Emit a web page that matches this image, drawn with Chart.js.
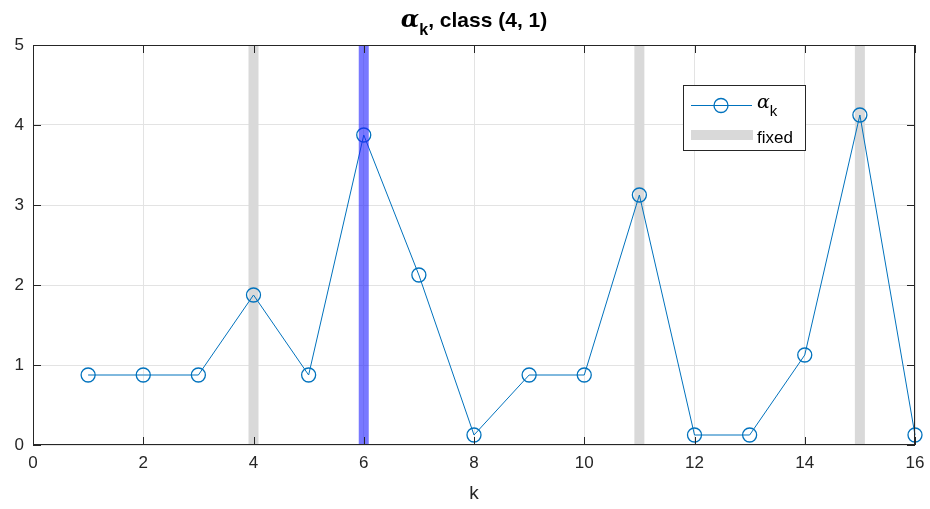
<!DOCTYPE html>
<html>
<head>
<meta charset="utf-8">
<script src="https://cdn.jsdelivr.net/npm/chart.js@4/dist/chart.umd.min.js"></script>
<style>
  html, body { margin: 0; padding: 0; background: #fff; }
  #wrap { width: 930px; height: 509px; }
</style>
</head>
<body>
<div id="wrap"><canvas id="alphaChart" width="930" height="509"></canvas></div>
<script>
// data
const kValues = [1, 2, 3, 4, 5, 6, 7, 8, 9, 10, 11, 12, 13, 14, 15, 16];
const alphaValues = [0.875, 0.875, 0.875, 1.875, 0.875, 3.875, 2.125, 0.125, 0.875, 0.875, 3.125, 0.125, 0.125, 1.125, 4.125, 0.125];
const fixedK = [4, 11, 15];
const currentK = [6];
const xTicks = [0, 2, 4, 6, 8, 10, 12, 14, 16];
const yTicks = [0, 1, 2, 3, 4, 5];

const LINE_BLUE = '#0072BD';
const AXIS_COL = '#262626';
const FONT = 'Arial, "Liberation Sans", sans-serif';

function vbar(k, color, order) {
    return {
        data: [{ x: k, y: 0 }, { x: k, y: 5 }],
        borderColor: color,
        borderWidth: 10,
        borderCapStyle: 'butt',
        pointRadius: 0,
        order: order
    };
}

const datasets = [];
fixedK.forEach(k => datasets.push(vbar(k, '#d9d9d9', 3)));
datasets.push({
    data: kValues.map((k, i) => ({ x: k, y: alphaValues[i] })),
    borderColor: LINE_BLUE,
    borderWidth: 1,
    pointStyle: 'circle',
    pointRadius: 7,
    pointBorderWidth: 1.3,
    pointBorderColor: LINE_BLUE,
    pointBackgroundColor: 'rgba(0,0,0,0)',
    clip: false,
    order: 2
});
currentK.forEach(k => datasets.push(vbar(k, 'rgba(30,30,255,0.6)', 1)));

// box, inward ticks, title, legend
const decor = {
    id: 'decor',
    afterDraw(chart) {
        const c = chart.ctx;
        const a = chart.chartArea;
        const xs = chart.scales.x, ys = chart.scales.y;
        c.save();
        c.strokeStyle = AXIS_COL;
        c.lineWidth = 1;
        c.strokeRect(a.left + 0.5, a.top + 0.5, a.right - a.left - 1, a.bottom - a.top - 1);
        c.beginPath();
        xTicks.forEach(t => {
            const px = Math.round(xs.getPixelForValue(t)) + 0.5;
            c.moveTo(px, a.bottom); c.lineTo(px, a.bottom - 8);
            c.moveTo(px, a.top); c.lineTo(px, a.top + 8);
        });
        yTicks.forEach(t => {
            const py = Math.round(ys.getPixelForValue(t)) + 0.5;
            c.moveTo(a.left, py); c.lineTo(a.left + 8, py);
            c.moveTo(a.right, py); c.lineTo(a.right - 8, py);
        });
        c.stroke();

        // title
        c.fillStyle = '#000';
        const cx = (a.left + a.right) / 2;
        c.textBaseline = 'alphabetic';
        c.font = 'italic bold 24px "DejaVu Serif", serif';
        const aW = c.measureText('\u03b1').width;
        c.font = 'bold 16px ' + FONT;
        const kW = c.measureText('k').width;
        c.font = 'bold 21px ' + FONT;
        const rest = ', class (4, 1)';
        const rW = c.measureText(rest).width;
        let x0 = cx - (aW + kW + rW) / 2;
        c.textAlign = 'left';
        c.font = 'italic bold 24px "DejaVu Serif", serif';
        c.fillText('\u03b1', x0, 27);
        c.font = 'bold 16px ' + FONT;
        c.fillText('k', x0 + aW, 35);
        c.font = 'bold 21px ' + FONT;
        c.fillText(rest, x0 + aW + kW, 27);

        // legend
        const lx = 683, ly = 85, lw = 122, lh = 65;
        c.fillStyle = '#fff';
        c.fillRect(lx, ly, lw, lh);
        c.strokeStyle = AXIS_COL;
        c.lineWidth = 1;
        c.strokeRect(lx + 0.5, ly + 0.5, lw, lh);
        c.strokeStyle = LINE_BLUE;
        c.beginPath();
        c.moveTo(691, 105.5); c.lineTo(752, 105.5);
        c.stroke();
        c.lineWidth = 1.3;
        c.beginPath();
        c.arc(721, 105.5, 7, 0, Math.PI * 2);
        c.stroke();
        c.fillStyle = '#d9d9d9';
        c.fillRect(691, 130, 62, 10);
        c.fillStyle = '#000';
        c.font = 'italic 19px "DejaVu Serif", serif';
        c.fillText('\u03b1', 757, 108);
        const aw2 = c.measureText('\u03b1').width;
        c.font = '15px ' + FONT;
        c.fillText('k', 757 + aw2, 116);
        c.font = '17px ' + FONT;
        c.fillText('fixed', 757, 143);
        c.restore();
    }
};

const config = {
    type: 'line',
    data: { datasets: datasets },
    options: {
        responsive: false,
        animation: false,
        layout: { padding: { top: 45, right: 15, left: 0, bottom: 0 } },
        plugins: { legend: { display: false }, tooltip: { enabled: false }, title: { display: false } },
        scales: {
            x: {
                type: 'linear',
                min: 0, max: 16,
                afterFit: s => { s.height = 64; s.paddingRight = 0; s.paddingLeft = 0; },
                afterBuildTicks: s => { s.ticks = xTicks.map(v => ({ value: v })); },
                grid: { color: '#e3e3e3', drawTicks: false },
                border: { display: false },
                ticks: { color: AXIS_COL, font: { family: FONT, size: 17 }, padding: 8, maxRotation: 0 },
                title: { display: true, text: 'k', color: AXIS_COL, font: { family: FONT, size: 19 }, padding: { top: 3 } }
            },
            y: {
                min: 0, max: 5,
                afterFit: s => { s.width = 33; s.paddingTop = 0; s.paddingBottom = 0; },
                afterBuildTicks: s => { s.ticks = yTicks.map(v => ({ value: v })); },
                grid: { color: '#e3e3e3', drawTicks: false },
                border: { display: false },
                ticks: { color: AXIS_COL, font: { family: FONT, size: 17 }, padding: 9 }
            }
        }
    },
    plugins: [decor]
};

new Chart(document.getElementById('alphaChart').getContext('2d'), config);
</script>
</body>
</html>
